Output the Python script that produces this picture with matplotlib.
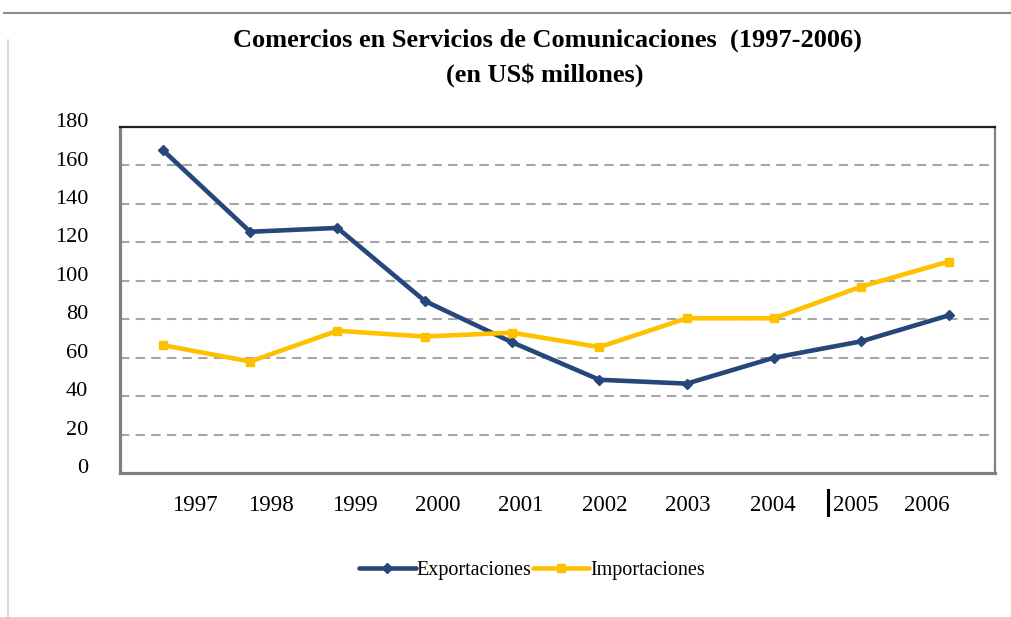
import matplotlib
matplotlib.use("Agg")
import matplotlib.pyplot as plt
import matplotlib.transforms as mtransforms
from matplotlib.lines import Line2D

years = ["1997", "1998", "1999", "2000", "2001", "2002", "2003", "2004", "2005", "2006"]
exportaciones = [168, 125.5, 127.5, 89.5, 68, 48.5, 46.5, 60, 68.5, 82]
importaciones = [66.5, 58, 74, 71, 73, 65.5, 80.5, 80.5, 97, 110]
label_pos = [0.37, 1.24, 2.20, 3.15, 4.10, 5.06, 6.01, 6.99, 7.93, 8.75]
yticks = [0, 20, 40, 60, 80, 100, 120, 140, 160, 180]

plt.rcParams['font.family'] = ['Liberation Serif', 'DejaVu Serif']

fig = plt.figure(figsize=(10.12, 6.17), dpi=100)
ax = fig.add_axes([120/1012, 1-473/617, (995-120)/1012, (473-127)/617])

x = list(range(len(years)))
navy = '#25477A'
gold = '#FFC000'
ax.plot(x, exportaciones, color=navy, lw=3.3, marker='D', ms=5, label='Exportaciones',
        solid_joinstyle='round', solid_capstyle='round')
ax.plot(x, importaciones, color=gold, lw=3.3, marker='s', ms=6, label='Importaciones',
        solid_joinstyle='round', solid_capstyle='round')

ax.set_xlim(-0.49, 9.53)
ax.set_ylim(0, 180)
ax.set_yticks(yticks)
ax.set_yticklabels([str(v) for v in yticks], fontsize=16)
ax.set_xticks(label_pos)
ax.set_xticklabels(years, fontsize=16.5)
ax.tick_params(axis='both', length=0)
ax.tick_params(axis='y', pad=23)
ax.tick_params(axis='x', pad=16)

offset = mtransforms.ScaledTranslation(0, 5/72, fig.dpi_scale_trans)
for lab in ax.get_yticklabels():
    lab.set_transform(lab.get_transform() + offset)

for v in yticks[1:-1]:
    ax.axhline(v, color='#A6A6A6', lw=1.5, linestyle=(0, (4.5, 3)), zorder=0)

ax.spines['left'].set_color('#808080')
ax.spines['left'].set_linewidth(2.3)
ax.spines['bottom'].set_color('#808080')
ax.spines['bottom'].set_linewidth(2.3)
ax.spines['right'].set_color('#808080')
ax.spines['right'].set_linewidth(1.6)
ax.spines['top'].set_color('#202020')
ax.spines['top'].set_linewidth(1.6)

fig.text(547/1012, 1-40/617, "Comercios en Servicios de Comunicaciones  (1997-2006)",
         ha='center', va='center', fontsize=19, fontweight='bold')
fig.text(545/1012, 1-75/617, "(en US$ millones)",
         ha='center', va='center', fontsize=19, fontweight='bold')

leg = fig.legend(loc='center', bbox_to_anchor=(532/1012, 1-570/617), ncol=2, frameon=False,
                 fontsize=14.5, handlelength=2.8, handletextpad=0.05, columnspacing=0.05)

fig.add_artist(Line2D([0.004, 1.0], [1-13/617, 1-13/617], color='#8C8C8C', lw=1.5))
fig.add_artist(Line2D([8/1012, 8/1012], [1-40/617, 0], color='#CFCFCF', lw=1.2))
fig.add_artist(Line2D([828/1012, 828/1012], [1-490/617, 1-515/617], color='black', lw=2.2))

fig.savefig("out.png", dpi=100)
